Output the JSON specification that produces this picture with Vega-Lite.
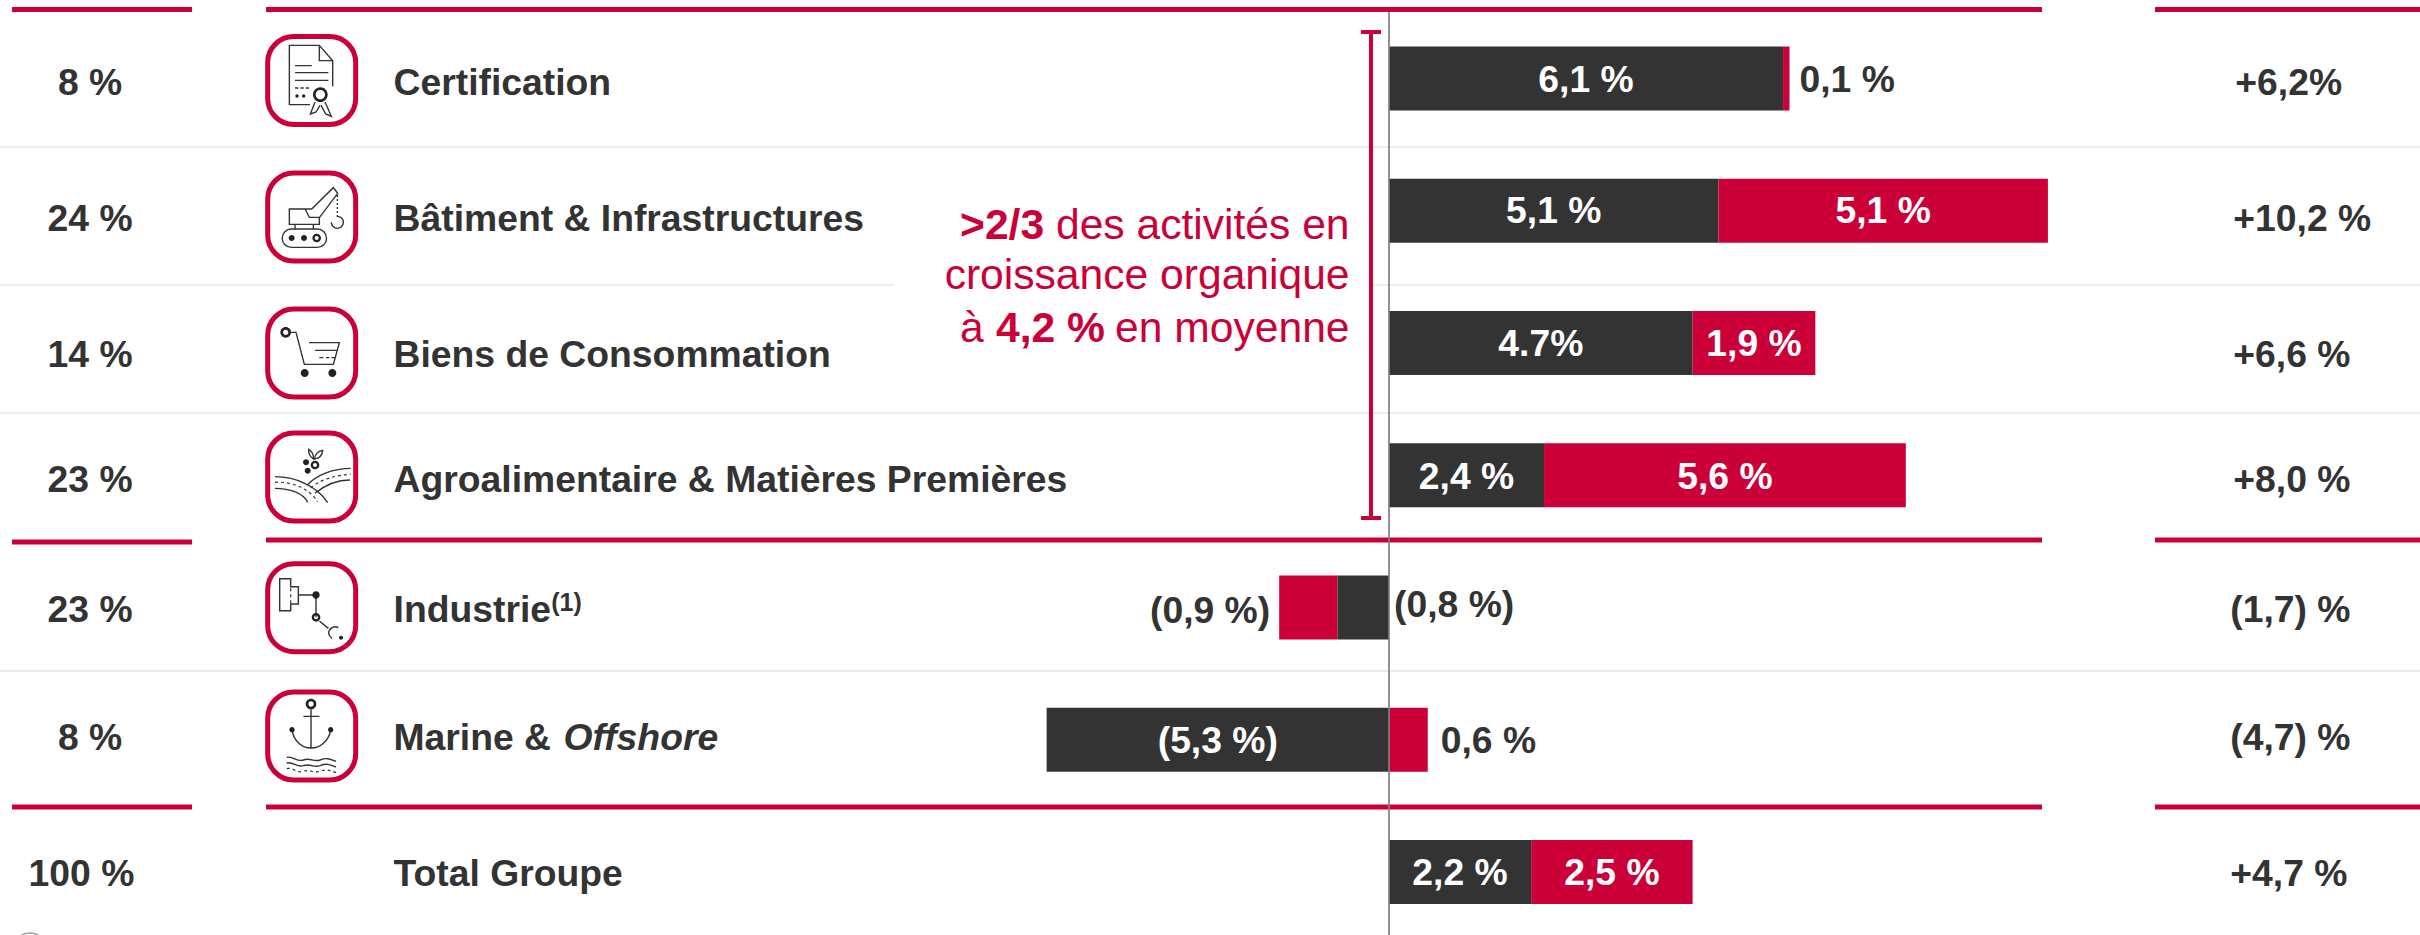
{
"$schema":"https://vega.github.io/schema/vega-lite/v6.json",
"width":2420,"height":935,"padding":0,"autosize":{"type":"none"},
"background":"#ffffff",
"config":{"view":{"stroke":null},"axis":{"disable":true},"legend":{"disable":true},
"text":{"font":"Liberation Sans","fontSize":37.3,"fontWeight":"bold","fill":"#333333","baseline":"alphabetic"}},
"datasets":{
"lignes":[
{"rang":1,"poids":"8 %","libelle":"Certification","total":"+6,2%"},
{"rang":2,"poids":"24 %","libelle":"Bâtiment & Infrastructures","total":"+10,2 %"},
{"rang":3,"poids":"14 %","libelle":"Biens de Consommation","total":"+6,6 %"},
{"rang":4,"poids":"23 %","libelle":"Agroalimentaire & Matières Premières","total":"+8,0 %"},
{"rang":5,"poids":"23 %","libelle":"Industrie","exposant":"(1)","total":"(1,7) %"},
{"rang":6,"poids":"8 %","libelle":"Marine &","italique":"Offshore","total":"(4,7) %"},
{"rang":7,"poids":"100 %","libelle":"Total Groupe","total":"+4,7 %"}
],
"barres":[
{"rang":1,"activite":"Certification","segment":"sombre","ordre":1,"valeur":6.1,"etiquette":"6,1 %","placement":"dedans"},
{"rang":1,"activite":"Certification","segment":"rouge","ordre":2,"valeur":0.1,"etiquette":"0,1 %","placement":"a_droite"},
{"rang":2,"activite":"Bâtiment & Infrastructures","segment":"sombre","ordre":1,"valeur":5.1,"etiquette":"5,1 %","placement":"dedans"},
{"rang":2,"activite":"Bâtiment & Infrastructures","segment":"rouge","ordre":2,"valeur":5.1,"etiquette":"5,1 %","placement":"dedans"},
{"rang":3,"activite":"Biens de Consommation","segment":"sombre","ordre":1,"valeur":4.7,"etiquette":"4.7%","placement":"dedans"},
{"rang":3,"activite":"Biens de Consommation","segment":"rouge","ordre":2,"valeur":1.9,"etiquette":"1,9 %","placement":"dedans"},
{"rang":4,"activite":"Agroalimentaire & Matières Premières","segment":"sombre","ordre":1,"valeur":2.4,"etiquette":"2,4 %","placement":"dedans"},
{"rang":4,"activite":"Agroalimentaire & Matières Premières","segment":"rouge","ordre":2,"valeur":5.6,"etiquette":"5,6 %","placement":"dedans"},
{"rang":5,"activite":"Industrie","segment":"sombre","ordre":1,"valeur":-0.8,"etiquette":"(0,8 %)","placement":"cote_axe"},
{"rang":5,"activite":"Industrie","segment":"rouge","ordre":2,"valeur":-0.9,"etiquette":"(0,9 %)","placement":"a_gauche"},
{"rang":6,"activite":"Marine & Offshore","segment":"sombre","ordre":1,"valeur":-5.3,"etiquette":"(5,3 %)","placement":"dedans"},
{"rang":6,"activite":"Marine & Offshore","segment":"rouge","ordre":2,"valeur":0.6,"etiquette":"0,6 %","placement":"a_droite"},
{"rang":7,"activite":"Total Groupe","segment":"sombre","ordre":1,"valeur":2.2,"etiquette":"2,2 %","placement":"dedans"},
{"rang":7,"activite":"Total Groupe","segment":"rouge","ordre":2,"valeur":2.5,"etiquette":"2,5 %","placement":"dedans"}
],
"separateurs":[{"apres":1},{"apres":2},{"apres":3},{"apres":5}],
"filets":[{"apres":0},{"apres":4},{"apres":6}],
"accolade":[{"premier":1,"dernier":4}],
"axe":[{"de":0,"a":7}],
"note":[{"rang":8}],
"pictos":[{"rang":1,"picto":"certificat"},{"rang":2,"picto":"grue"},{"rang":3,"picto":"chariot"},{"rang":4,"picto":"champs"},{"rang":5,"picto":"usine"},{"rang":6,"picto":"ancre"}],
"annotation":[
{"ligne":1,"texte":"des activités en","fragment":"fin"},
{"ligne":2,"texte":"croissance organique","fragment":"fin"},
{"ligne":3,"texte":"en moyenne","fragment":"fin"},
{"ligne":1,"texte":">2/3","fragment":"gras_debut"},
{"ligne":3,"texte":"à","fragment":"debut"},
{"ligne":3,"texte":"4,2 %","fragment":"gras_suite"}
]
},
"data":{"name":"barres"},
"transform":[{"stack":"valeur","groupby":["activite"],"sort":[{"field":"ordre","order":"ascending"}],"as":["debut","fin"],"offset":"zero"}],
"resolve":{"scale":{"y":"independent","shape":"independent"}},
"layer":[
{"data":{"name":"separateurs"},"transform":[{"filter":"datum.apres != 2"}],"mark":{"type":"rule","stroke":"#e6e6e6","strokeWidth":1.5},
"encoding":{"x":{"datum":-21.502,"scale":{"domain":[-21.502,15.96]}},"x2":{"datum":15.96},"y":{"field":"apres","type":"quantitative","scale":{"domain":[1,3,5],"range":[147,413,671]}}}},
{"data":{"name":"separateurs"},"transform":[{"filter":"datum.apres == 2"}],"mark":{"type":"rule","stroke":"#e6e6e6","strokeWidth":1.5},
"encoding":{"x":{"datum":-21.502,"scale":{"domain":[-21.502,15.96]}},"x2":{"datum":-7.663},"y":{"field":"apres","type":"quantitative","scale":{"domain":[1,2,3],"range":[147,285,413]}}}},
{"data":{"name":"separateurs"},"transform":[{"filter":"datum.apres == 2"}],"mark":{"type":"rule","stroke":"#e6e6e6","strokeWidth":1.5},
"encoding":{"x":{"datum":-0.248,"scale":{"domain":[-21.502,15.96]}},"x2":{"datum":15.96},"y":{"field":"apres","type":"quantitative","scale":{"domain":[1,2,3],"range":[147,285,413]}}}},
{"data":{"name":"filets"},"mark":{"type":"rule","stroke":"#cb0038","strokeWidth":5},
"encoding":{"x":{"datum":-21.316,"scale":{"domain":[-21.502,15.96]}},"x2":{"datum":-18.529},"y":{"field":"apres","type":"quantitative","scale":{"domain":[0,4,6],"range":[9.5,542,807]}}}},
{"data":{"name":"filets"},"mark":{"type":"rule","stroke":"#cb0038","strokeWidth":5},
"encoding":{"x":{"datum":-17.384,"scale":{"domain":[-21.502,15.96]}},"x2":{"datum":10.108},"y":{"field":"apres","type":"quantitative","scale":{"domain":[0,4,6],"range":[9.5,540,807]}}}},
{"data":{"name":"filets"},"mark":{"type":"rule","stroke":"#cb0038","strokeWidth":5},
"encoding":{"x":{"datum":11.858,"scale":{"domain":[-21.502,15.96]}},"x2":{"datum":15.96},"y":{"field":"apres","type":"quantitative","scale":{"domain":[0,4,6],"range":[9.5,540,807]}}}},

{"data":{"name":"accolade"},"mark":{"type":"rule","stroke":"#cb0038","strokeWidth":4},
"encoding":{"x":{"datum":-0.279,"scale":{"domain":[-21.502,15.96]}},"y":{"field":"premier","type":"quantitative","scale":{"domain":[1,4],"range":[32,518]}},"y2":{"field":"dernier"}}},
{"data":{"name":"accolade"},"mark":{"type":"rule","stroke":"#cb0038","strokeWidth":4},
"encoding":{"x":{"datum":-0.433,"scale":{"domain":[-21.502,15.96]}},"x2":{"datum":-0.124},"y":{"field":"premier","type":"quantitative","scale":{"domain":[1,4],"range":[32,518]}}}},
{"data":{"name":"accolade"},"mark":{"type":"rule","stroke":"#cb0038","strokeWidth":4},
"encoding":{"x":{"datum":-0.433,"scale":{"domain":[-21.502,15.96]}},"x2":{"datum":-0.124},"y":{"field":"dernier","type":"quantitative","scale":{"domain":[1,4],"range":[32,518]}}}},

{"mark":{"type":"bar"},
"encoding":{"x":{"field":"debut","type":"quantitative","scale":{"domain":[-21.502,15.96]}},"x2":{"field":"fin"},
"y":{"field":"activite","type":"ordinal","sort":null,"scale":{"domain":["Certification","Bâtiment & Infrastructures","Biens de Consommation","Agroalimentaire & Matières Premières","Industrie","Marine & Offshore","Total Groupe"],"range":[12.375,938.1],"paddingInner":0.516,"paddingOuter":0.258}},
"fill":{"field":"segment","type":"nominal","scale":{"domain":["sombre","rouge"],"range":["#333333","#cb0038"]},"legend":null}}},

{"transform":[{"filter":"datum.placement == 'dedans'"},{"calculate":"(datum.debut + datum.fin) / 2","as":"milieu"}],
"mark":{"type":"text","fill":"#ffffff","align":"center"},
"encoding":{"x":{"field":"milieu","type":"quantitative","scale":{"domain":[-21.502,15.96]}},"y":{"field":"rang","type":"quantitative","scale":{"domain":[1,2,3,4,5,6,7],"range":[91.7,223.3,355.7,489,620,752.7,885]}},"text":{"field":"etiquette"}}},
{"transform":[{"filter":"datum.placement == 'a_droite' && datum.rang == 1"}],
"mark":{"type":"text","align":"left","dx":10},
"encoding":{"x":{"field":"fin","type":"quantitative","scale":{"domain":[-21.502,15.96]}},"y":{"field":"rang","type":"quantitative","scale":{"domain":[1,2,3,4,5,6,7],"range":[91.7,223.3,355.7,489,620,752.7,885]}},"text":{"field":"etiquette"}}},
{"transform":[{"filter":"datum.placement == 'a_droite' && datum.rang == 6"}],
"mark":{"type":"text","align":"left","dx":13},
"encoding":{"x":{"field":"fin","type":"quantitative","scale":{"domain":[-21.502,15.96]}},"y":{"field":"rang","type":"quantitative","scale":{"domain":[1,2,3,4,5,6,7],"range":[91.7,223.3,355.7,489,620,752.7,885]}},"text":{"field":"etiquette"}}},
{"transform":[{"filter":"datum.placement == 'cote_axe'"}],
"mark":{"type":"text","align":"left","dx":5,"dy":-3},
"encoding":{"x":{"field":"debut","type":"quantitative","scale":{"domain":[-21.502,15.96]}},"y":{"field":"rang","type":"quantitative","scale":{"domain":[1,2,3,4,5,6,7],"range":[91.7,223.3,355.7,489,620,752.7,885]}},"text":{"field":"etiquette"}}},
{"transform":[{"filter":"datum.placement == 'a_gauche'"}],
"mark":{"type":"text","align":"right","dx":-9,"dy":3},
"encoding":{"x":{"field":"fin","type":"quantitative","scale":{"domain":[-21.502,15.96]}},"y":{"field":"rang","type":"quantitative","scale":{"domain":[1,2,3,4,5,6,7],"range":[91.7,223.3,355.7,489,620,752.7,885]}},"text":{"field":"etiquette"}}},

{"data":{"name":"lignes"},"transform":[{"filter":"datum.rang < 7"}],"mark":{"type":"text","align":"center"},
"encoding":{"x":{"datum":-20.108,"scale":{"domain":[-21.502,15.96]}},"y":{"field":"rang","type":"quantitative","scale":{"domain":[1,2,3,4,5,6,7],"range":[95,230.7,366.7,491.7,621.7,750,885.7]}},"text":{"field":"poids"}}},
{"data":{"name":"lignes"},"transform":[{"filter":"datum.rang == 7"}],"mark":{"type":"text","align":"center","dx":-8.6},
"encoding":{"x":{"datum":-20.108,"scale":{"domain":[-21.502,15.96]}},"y":{"field":"rang","type":"quantitative","scale":{"domain":[1,2,3,4,5,6,7],"range":[95,230.7,366.7,491.7,621.7,750,885.7]}},"text":{"field":"poids"}}},
{"data":{"name":"lignes"},"mark":{"type":"text","align":"left"},
"encoding":{"x":{"datum":-15.41,"scale":{"domain":[-21.502,15.96]}},"y":{"field":"rang","type":"quantitative","scale":{"domain":[1,2,3,4,5,6,7],"range":[95,230.7,366.7,491.7,621.7,750,885.7]}},"text":{"field":"libelle"}}},
{"data":{"name":"lignes"},"transform":[{"filter":"isValid(datum.italique)"}],"mark":{"type":"text","align":"left","fontStyle":"italic"},
"encoding":{"x":{"datum":-12.78,"scale":{"domain":[-21.502,15.96]}},"y":{"field":"rang","type":"quantitative","scale":{"domain":[1,2,3,4,5,6,7],"range":[95,230.7,366.7,491.7,621.7,750,885.7]}},"text":{"field":"italique"}}},
{"data":{"name":"lignes"},"transform":[{"filter":"isValid(datum.exposant)"}],"mark":{"type":"text","align":"left","fontSize":25,"dy":-11},
"encoding":{"x":{"datum":-12.97,"scale":{"domain":[-21.502,15.96]}},"y":{"field":"rang","type":"quantitative","scale":{"domain":[1,2,3,4,5,6,7],"range":[95,230.7,366.7,491.7,621.7,750,885.7]}},"text":{"field":"exposant"}}},
{"data":{"name":"lignes"},"transform":[{"filter":"datum.rang >= 2 && datum.rang <= 4"}],"mark":{"type":"text","align":"left"},
"encoding":{"x":{"datum":13.07,"scale":{"domain":[-21.502,15.96]}},"y":{"field":"rang","type":"quantitative","scale":{"domain":[1,2,3,4,5,6,7],"range":[95,230.7,366.7,491.7,621.7,750,885.7]}},"text":{"field":"total"}}},
{"data":{"name":"lignes"},"transform":[{"filter":"datum.rang == 5 || datum.rang == 6"}],"mark":{"type":"text","align":"left","dx":-3},
"encoding":{"x":{"datum":13.07,"scale":{"domain":[-21.502,15.96]}},"y":{"field":"rang","type":"quantitative","scale":{"domain":[1,2,3,4,5,6,7],"range":[95,230.7,366.7,491.7,621.7,750,885.7]}},"text":{"field":"total"}}},
{"data":{"name":"lignes"},"transform":[{"filter":"datum.rang == 1"}],"mark":{"type":"text","align":"left","dx":2},
"encoding":{"x":{"datum":13.07,"scale":{"domain":[-21.502,15.96]}},"y":{"field":"rang","type":"quantitative","scale":{"domain":[1,2,3,4,5,6,7],"range":[95,230.7,366.7,491.7,621.7,750,885.7]}},"text":{"field":"total"}}},
{"data":{"name":"lignes"},"transform":[{"filter":"datum.rang == 7"}],"mark":{"type":"text","align":"left","dx":-3},
"encoding":{"x":{"datum":13.07,"scale":{"domain":[-21.502,15.96]}},"y":{"field":"rang","type":"quantitative","scale":{"domain":[1,2,3,4,5,6,7],"range":[95,230.7,366.7,491.7,621.7,750,885.7]}},"text":{"field":"total"}}},

{"data":{"name":"annotation"},"transform":[{"filter":"datum.fragment == 'fin'"}],"mark":{"type":"text","align":"right","fontSize":42.6,"fontWeight":"normal","fill":"#cb0038"},
"encoding":{"x":{"datum":-0.611,"scale":{"domain":[-21.502,15.96]}},"y":{"field":"ligne","type":"quantitative","scale":{"domain":[1,2,3],"range":[239,289,342]}},"text":{"field":"texte"}}},
{"data":{"name":"annotation"},"transform":[{"filter":"datum.fragment == 'gras_debut'"}],"mark":{"type":"text","align":"left","fontSize":42.6,"fontWeight":"bold","fill":"#cb0038"},
"encoding":{"x":{"datum":-6.641,"scale":{"domain":[-21.502,15.96]}},"y":{"field":"ligne","type":"quantitative","scale":{"domain":[1,2,3],"range":[239,289,342]}},"text":{"field":"texte"}}},
{"data":{"name":"annotation"},"transform":[{"filter":"datum.fragment == 'debut'"}],"mark":{"type":"text","align":"left","fontSize":42.6,"fontWeight":"normal","fill":"#cb0038"},
"encoding":{"x":{"datum":-6.641,"scale":{"domain":[-21.502,15.96]}},"y":{"field":"ligne","type":"quantitative","scale":{"domain":[1,2,3],"range":[239,289,342]}},"text":{"field":"texte"}}},
{"data":{"name":"annotation"},"transform":[{"filter":"datum.fragment == 'gras_suite'"}],"mark":{"type":"text","align":"left","fontSize":42.6,"fontWeight":"bold","fill":"#cb0038"},
"encoding":{"x":{"datum":-6.084,"scale":{"domain":[-21.502,15.96]}},"y":{"field":"ligne","type":"quantitative","scale":{"domain":[1,2,3],"range":[239,289,342]}},"text":{"field":"texte"}}},

{"data":{"name":"pictos"},"mark":{"type":"point","shape":"M-54,-132H54C97,-132 132,-97 132,-54V54C132,97 97,132 54,132H-54C-97,132 -132,97 -132,54V-54C-132,-97 -97,-132 -54,-132Z","size":0.4444,"filled":false,"stroke":"#cb0038","strokeWidth":5,"opacity":1},
"encoding":{"x":{"datum":-16.677,"scale":{"domain":[-21.502,15.96]}},"y":{"field":"rang","type":"quantitative","scale":{"domain":[1,2,3,4,5,6],"range":[80.5,217,353,477,607.7,736]}}}},
{"data":{"name":"pictos"},"mark":{"type":"point","size":0.4444,"filled":false,"stroke":"#333333","strokeWidth":1.4,"opacity":1},
"encoding":{"x":{"datum":-16.677,"scale":{"domain":[-21.502,15.96]}},"y":{"field":"rang","type":"quantitative","scale":{"domain":[1,2,3,4,5,6],"range":[80,217,353,477,607.7,736]}},
"shape":{"field":"picto","type":"nominal","legend":null,"scale":{"domain":["certificat","grue","chariot","champs","usine","ancre"],"range":[
"M-5,74H-67V-104H23L63,-58V19M23,-104V-58H63M-50,-43H0M-50,-22H50M-50,1H50M-50,24H-40M-34,24H-24M-18,24H-8M10,66L-4,102L13,96L25,76M40,66L59,109L42,102L28,76",
"M-67,-24H0L65,-88L78,-71L23,2V22H-67ZM-20,-24L-7,1H23M-50,22V36M5,22V36M-61,36H17A27.5,27.5 0 0 1 17,91H-61A27.5,27.5 0 0 1 -61,36ZM77,-66V-60M77,-54V-48M77,-42V-36M77,-30V-24M77,-18V-12M77,-6V0M77,-2A18,18 0 1 1 59,16",
"M-62,-62H-47L-22,34H65L83,-31H-8M10,-8H77M23,14H35M43,14H53M59,14H69",
"M-110,-1C-55,-1 15,24 48,77M-13,24C15,-6 65,-26 117,-26M-110,34C-65,34 -25,49 -12,76M10,49C40,24 80,9 115,9M5,-54C-5,-61 -10,-71 -9,-83C0,-78 7,-66 5,-54ZM8,-54C10,-68 20,-78 33,-80C32,-66 22,-56 8,-54Z",
"M-96,-87H-63V-63H-40V-11H-63V9H-96ZM-40,-38H13M13,-38V29M23,40L50,62M80,60C67,52 50,64 51,77C52,85 57,89 61,92",
"M-2,-80V36M-25,-59H23M-59,-19C-55,14 -30,36 -2,36C25,36 53,14 57,-19M-75,64C-55,59 -45,79 -25,72C-5,64 5,79 25,72C45,64 55,69 73,76M-75,81C-55,76 -45,96 -25,89C-5,81 5,96 25,89C45,81 55,86 73,93"
]}}}},
{"data":{"name":"pictos"},"transform":[{"filter":"datum.picto == 'champs' || datum.picto == 'usine' || datum.picto == 'ancre'"}],"mark":{"type":"point","size":0.4444,"filled":false,"stroke":"#333333","strokeWidth":1.2,"strokeDash":[3,3],"opacity":1},
"encoding":{"x":{"datum":-16.677,"scale":{"domain":[-21.502,15.96]}},"y":{"field":"rang","type":"quantitative","scale":{"domain":[1,2,3,4,5,6],"range":[80,217,353,477,607.7,736]}},
"shape":{"field":"picto","type":"nominal","legend":null,"scale":{"domain":["champs","usine","ancre"],"range":[
"M-110,16C-65,12 -5,34 17,74M-3,32C25,9 70,-6 117,-8",
"M-63,-58V-11",
"M-75,98C-55,93 -45,113 -25,106C-5,98 5,113 25,106C45,98 55,103 73,110"
]}}}},
{"data":{"name":"pictos"},"mark":{"type":"point","size":0.4444,"filled":true,"fill":"#222222","strokeWidth":0,"opacity":1},
"encoding":{"x":{"datum":-16.677,"scale":{"domain":[-21.502,15.96]}},"y":{"field":"rang","type":"quantitative","scale":{"domain":[1,2,3,4,5,6],"range":[80,217,353,477,607.7,736]}},
"shape":{"field":"picto","type":"nominal","legend":null,"scale":{"domain":["certificat","grue","chariot","champs","usine","ancre"],"range":[
"M-49,48A5,5 0 1 1 -39,48A5,5 0 1 1 -49,48ZM-29,48A5,5 0 1 1 -19,48A5,5 0 1 1 -29,48ZM4,44A22,22 0 1 1 48,44A22,22 0 1 1 4,44ZM12,44A14,14 0 1 0 40,44A14,14 0 1 0 12,44Z",
"M-69,63A9,9 0 1 1 -51,63A9,9 0 1 1 -69,63ZM-32,63A9,9 0 1 1 -14,63A9,9 0 1 1 -32,63ZM2,63A13,13 0 1 1 28,63A13,13 0 1 1 2,63ZM9,63A6,6 0 1 0 21,63A6,6 0 1 0 9,63Z",
"M-94,-62A16,16 0 1 1 -62,-62A16,16 0 1 1 -94,-62ZM-86,-62A8,8 0 1 0 -70,-62A8,8 0 1 0 -86,-62ZM-33,60A12,12 0 1 1 -9,60A12,12 0 1 1 -33,60ZM50,60A12,12 0 1 1 74,60A12,12 0 1 1 50,60Z",
"M-26,-44A9,9 0 1 1 -8,-44A9,9 0 1 1 -26,-44ZM-21,-19A9,9 0 1 1 -3,-19A9,9 0 1 1 -21,-19ZM-3,-36A13,13 0 1 1 23,-36A13,13 0 1 1 -3,-36ZM4,-36A6,6 0 1 0 16,-36A6,6 0 1 0 4,-36Z",
"M2,-38A11,11 0 1 1 24,-38A11,11 0 1 1 2,-38ZM0,29A13,13 0 1 1 26,29A13,13 0 1 1 0,29ZM7,29A6,6 0 1 0 19,29A6,6 0 1 0 7,29ZM82,90A6,6 0 1 1 94,90A6,6 0 1 1 82,90Z",
"M-18,-96A16,16 0 1 1 14,-96A16,16 0 1 1 -18,-96ZM-10,-96A8,8 0 1 0 6,-96A8,8 0 1 0 -10,-96ZM-67,-19A8,8 0 1 1 -51,-19A8,8 0 1 1 -67,-19ZM49,-19A8,8 0 1 1 65,-19A8,8 0 1 1 49,-19Z"
]}}}},
{"data":{"name":"note"},"mark":{"type":"point","shape":"circle","size":1156,"filled":false,"stroke":"#999999","strokeWidth":1.5,"opacity":1},
"encoding":{"x":{"datum":-21.037,"scale":{"domain":[-21.502,15.96]}},"y":{"field":"rang","type":"quantitative","scale":{"domain":[7,8],"range":[873,950]}}}},

{"data":{"name":"axe"},"mark":{"type":"rule","stroke":"#7f7f7f","strokeWidth":1.7},
"encoding":{"x":{"datum":0,"scale":{"domain":[-21.502,15.96]}},"y":{"field":"de","type":"quantitative","scale":{"domain":[0,7],"range":[12,935]}},"y2":{"field":"a"}}}
]
}
